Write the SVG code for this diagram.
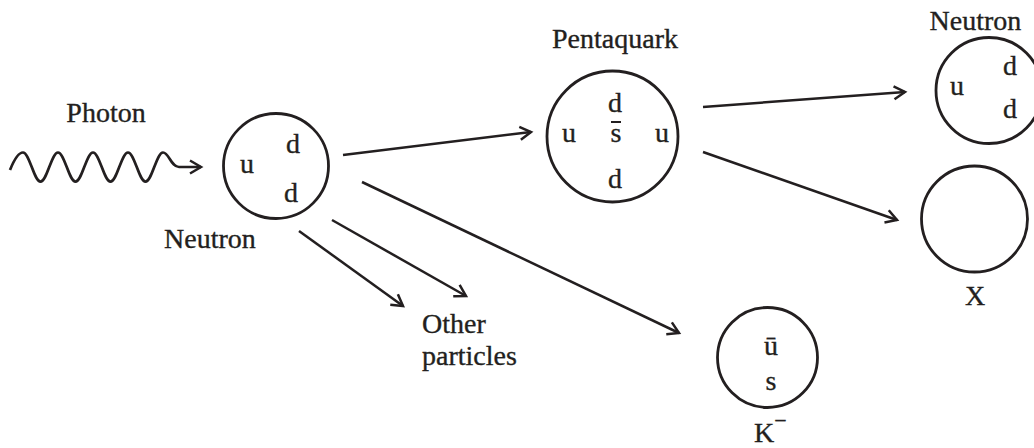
<svg xmlns="http://www.w3.org/2000/svg" width="1034" height="448" viewBox="0 0 1034 448">
<defs>
<style>
text{font-family:"Liberation Serif","Times New Roman",serif;font-size:28px;fill:#231f20;stroke:#231f20;stroke-width:0.35}
.c{fill:none;stroke:#231f20;stroke-width:2.8}
.l{fill:none;stroke:#231f20;stroke-width:2.5;marker-end:url(#ah)}
.m{text-anchor:middle}
</style>
<marker id="ah" markerUnits="userSpaceOnUse" viewBox="-14 -8 16 16" refX="0" refY="0" markerWidth="16" markerHeight="16" orient="auto" overflow="visible">
<path d="M-11,-6.5 L0,0 L-11,6.5" fill="none" stroke="#231f20" stroke-width="2.5" stroke-linejoin="miter"/>
</marker>
</defs>
<rect width="1034" height="448" fill="#fff"/>
<g id="connectors">
<path class="l" style="stroke-width:2.7" d="M10,170 C14,160 18,152.5 23,152.5 C29.4,152.5 34.1,181.7 40.5,181.7 C46.9,181.7 51.6,152.5 58,152.5 C64.4,152.5 69.1,181.7 75.5,181.7 C81.9,181.7 86.6,152.5 93,152.5 C99.4,152.5 104.1,181.7 110.5,181.7 C116.9,181.7 121.6,152.5 128,152.5 C134.4,152.5 139.1,181.7 145.5,181.7 C151.9,181.7 156.6,152.5 163,152.5 C169,152.5 171,167 179,167 L201,167"/>
<line class="l" x1="343" y1="155" x2="531" y2="132"/>
<line class="l" x1="362" y1="182" x2="679" y2="333"/>
<line class="l" x1="332" y1="220" x2="466" y2="296"/>
<line class="l" x1="299" y1="231" x2="403" y2="306"/>
<line class="l" x1="703" y1="107" x2="905" y2="92"/>
<line class="l" x1="703" y1="152" x2="897" y2="220"/>
</g>
<g id="photon-label"><text class="m" x="106" y="122">Photon</text></g>
<g id="neutron1">
<circle class="c" cx="276" cy="166" r="52.5"/>
<text class="m" x="247" y="173">u</text>
<text class="m" x="293" y="153">d</text>
<text class="m" x="291" y="202">d</text>
<text class="m" x="210" y="248">Neutron</text>
</g>
<g id="pentaquark">
<circle class="c" cx="612.5" cy="136.5" r="65.5"/>
<text class="m" x="615" y="48">Pentaquark</text>
<text class="m" x="615" y="112">d</text>
<text class="m" x="616" y="142">s</text>
<line x1="611" y1="122" x2="621" y2="122" stroke="#231f20" stroke-width="2"/>
<text class="m" x="569" y="142">u</text>
<text class="m" x="662" y="142">u</text>
<text class="m" x="615" y="188">d</text>
</g>
<g id="neutron2">
<circle class="c" cx="989" cy="90.5" r="53"/>
<text class="m" x="975.5" y="30">Neutron</text>
<text class="m" x="957" y="95">u</text>
<text class="m" x="1010" y="75">d</text>
<text class="m" x="1010" y="118">d</text>
</g>
<g id="x">
<circle class="c" cx="974.5" cy="219" r="53"/>
<text class="m" x="975" y="305">X</text>
</g>
<g id="other">
<text x="422" y="333">Other</text>
<text x="422" y="365">particles</text>
</g>
<g id="kminus">
<circle class="c" cx="767.5" cy="357.5" r="50"/>
<text class="m" x="771" y="355">ū</text>
<text class="m" x="771" y="390">s</text>
<text x="754" y="442">K<tspan font-size="22" dy="-14">−</tspan></text>
</g>
</svg>
